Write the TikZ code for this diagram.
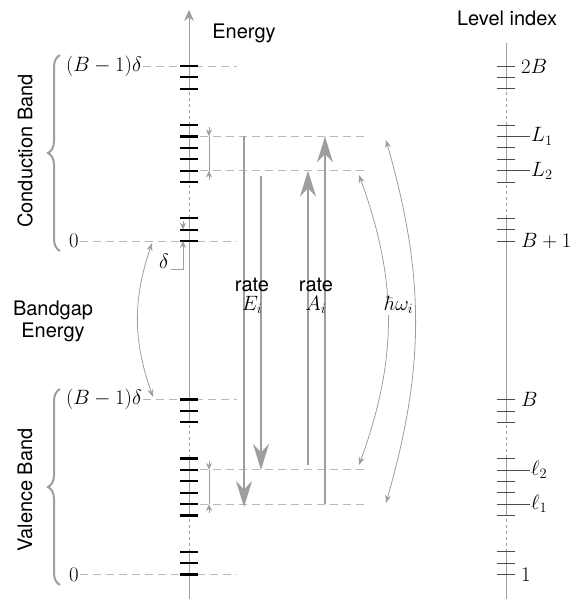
\documentclass[tikz,border=0pt]{standalone}
\usepackage{fontspec}
\setsansfont{TeX Gyre Heros}
\usetikzlibrary{arrows.meta,decorations.pathreplacing}
\definecolor{axisgray}{gray}{0.62}
\definecolor{dashgray}{gray}{0.72}
\definecolor{tickgray}{gray}{0.3}
\tikzset{
  axisline/.style={axisgray,line width=1pt},
  gapline/.style={axisgray,line width=1pt,dash pattern=on 3pt off 3pt},
  levtick/.style={black,line width=2.2pt},
  idxtick/.style={tickgray,line width=.8pt},
  guide/.style={dashgray,line width=.9pt,dash pattern=on 8pt off 5pt},
  rate/.style={axisgray,line width=1.4pt,-{Stealth[length=26pt,width=16pt]}},
  gaparc/.style={axisgray,line width=.8pt,{Stealth[length=8pt,width=6pt]}-{Stealth[length=8pt,width=6pt]}},
  dimtip/.style={axisgray,line width=.8pt,-{Stealth[length=7pt,width=6pt]}},
  band/.style={axisgray,line width=2pt,decorate,decoration={brace,amplitude=12pt}},
  lbl/.style={font=\fontsize{20}{22}\selectfont\sffamily,inner sep=1pt},
  mth/.style={font=\fontsize{20}{22}\selectfont,inner sep=1pt},
}
\begin{document}
\begin{tikzpicture}[x=1pt,y=-1pt]
\useasboundingbox(0,0)rectangle(576,599);
% levels that the arrows use
\coordinate(L1)at(189,136.4);\coordinate(L2)at(189,170.6);
\coordinate(l2)at(189,469.9);\coordinate(l1)at(189,504.1);
\coordinate(Etop)at(189,10);\coordinate(Itop)at(506,43);
% guides
\node[mth,anchor=east](cB)at(143,66){$(B-1)\delta$};\node[mth](c0)at(74,241){$0$};
\node[mth,anchor=east](vB)at(143,399.5){$(B-1)\delta$};\node[mth](v0)at(74,574.5){$0$};
\draw[guide](cB.east)--(237,66);\draw[guide](c0.east)--(237,241);
\draw[guide](vB.east)--(237,399.5);\draw[guide](v0.east)--(237,574.5);
\foreach \l in {L1,L2,l2,l1}\draw[guide](200,0|-\l)--(365,0|-\l);
% axes
\foreach \x/\t in {189/88.8,506/43}{
  \foreach \a/\b in {599/551.7,515.3/458.3,421.7/218.3,182/125,88.8/\t}\draw[axisline](\x,\a)--(\x,\b);
  \foreach \a/\b in {551.7/515.3,458.3/421.7,218.3/182,125/88.8}\draw[gapline](\x,\a)--(\x,\b);
}
\draw[axisline,-{Stealth[length=11pt,width=10pt]}](189,88.8)--(Etop);
\foreach \o in {0,333.5}{
  \foreach \y in {66,77.4,88.8,125,136.4,147.8,159.2,170.6,182,218.3,229.7,241}{
    \draw[levtick](180,\y+\o)--(198,\y+\o);
    \draw[idxtick](497,\y+\o)--(515,\y+\o);
  }
}
\node[lbl](en)at(244,33){Energy};
\node[lbl](li)at(507,18){Level index};
% level index labels
\node[mth,anchor=west](i2B)at(520,66){$2B$};
\node[mth,anchor=west](iL1)at(530,136.4){$L_1$};
\node[mth,anchor=west](iL2)at(530,170.6){$L_2$};
\node[mth,anchor=west](iB1)at(520,241){$B+1$};
\node[mth,anchor=west](iB)at(520,399.5){$B$};
\node[mth,anchor=west](il2)at(530,469.9){$\ell_2$};
\node[mth,anchor=west](il1)at(530,504.1){$\ell_1$};
\node[mth,anchor=west](i1)at(520,574.5){$1$};
\foreach \n in {iL1,iL2,il2,il1}\draw[idxtick](497,0|-\n.west)--(\n.west);
% bands
\draw[band](60,251)--(60,55);\draw[band](60,585)--(60,389);
\node[lbl,rotate=90](cb)at(25,151){Conduction Band};
\node[lbl,rotate=90](vb)at(25,490){Valence Band};
\node[lbl,align=center](bg)at(53,321){Bandgap\\Energy};
\draw[gaparc](152,243)to[bend right=19](153,397);
% spacing marks
\draw[dimtip](183,221)--(183,229.7);\draw[dimtip](171,269)-|(183,241);
\node[mth](dl)at(164,261){$\delta$};
\foreach \a/\b in {L1/L2,l2/l1}{
  \draw[dimtip](209,0|-\a)++(0,-9)--(209,0|-\a);
  \draw[dimtip](209,0|-\b)++(0,9)--(209,0|-\b);
  \draw[axisgray,line width=.8pt](209,0|-\a)--(209,0|-\b);
}
% transitions
\draw[rate](244,0|-L1)--(244,507);
\draw[rate](261,176)--(261,0|-l2);
\draw[rate](308,465)--(308,0|-L2);
\draw[rate](325,0|-l1)--(325,0|-L1);
\node[lbl,align=center](rE)at(252,296){rate\\[-3pt]$E_i$};
\node[lbl,align=center](rA)at(316,296){rate\\[-3pt]$A_i$};
\draw[gaparc](359,175)to[bend left=20](359,465);
\draw[gaparc](386,140)to[bend left=16](386,503);
\node[mth,fill=white](hw)at(399,305){$\hbar\omega_i$};
\end{tikzpicture}
\end{document}
